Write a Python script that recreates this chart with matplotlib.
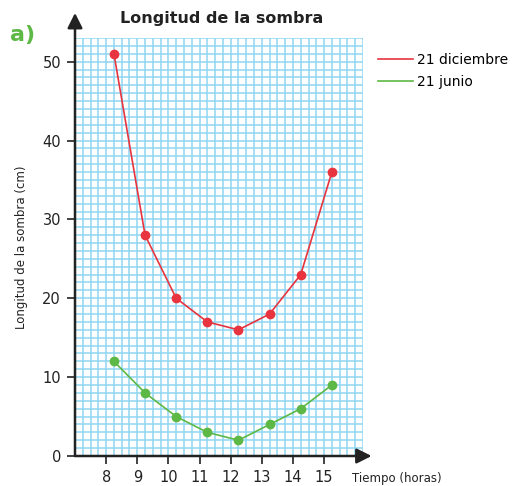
import matplotlib.pyplot as plt
import numpy as np

# data
horas = [8.25, 9.25, 10.25, 11.25, 12.25, 13.25, 14.25, 15.25]
diciembre = [51, 28, 20, 17, 16, 18, 23, 36]
junio = [12, 8, 5, 3, 2, 4, 6, 9]
xticks = [8, 9, 10, 11, 12, 13, 14, 15]
yticks = [0, 10, 20, 30, 40, 50]

rojo = "#e8343f"
verde = "#5db845"
azul = "#8ed6f2"
negro = "#222222"

plt.rcParams["font.family"] = ["DejaVu Sans"]

fig = plt.figure(figsize=(5.15, 4.86), dpi=100)
ax = fig.add_axes([75 / 515, 1 - 456 / 486, 288 / 515, 418 / 486])
ax.set_xlim(7, 16.25)
ax.set_ylim(0, 53)

# squared paper
for gx in np.arange(7.25, 16.26, 0.25):
    ax.axvline(gx, color=azul, lw=1.1, zorder=1)
for gy in range(1, 54):
    ax.axhline(gy, color=azul, lw=1.1, zorder=1)

for s in ax.spines.values():
    s.set_visible(False)

# axes with arrows
ax.annotate("", xy=(1.03, 0), xytext=(0, 0), xycoords="axes fraction",
            arrowprops=dict(arrowstyle="-|>,head_length=0.9,head_width=0.45",
                            color=negro, lw=1.8, shrinkA=0, shrinkB=0),
            annotation_clip=False, zorder=5)
ax.annotate("", xy=(0, 1.06), xytext=(0, 0), xycoords="axes fraction",
            arrowprops=dict(arrowstyle="-|>,head_length=0.9,head_width=0.45",
                            color=negro, lw=1.8, shrinkA=0, shrinkB=0),
            annotation_clip=False, zorder=5)

ax.plot(horas, diciembre, color=rojo, lw=1.2, marker="o", ms=6, zorder=4,
        label="21 diciembre", clip_on=False)
ax.plot(horas, junio, color=verde, lw=1.2, marker="o", ms=6, zorder=4,
        label="21 junio", clip_on=False)

ax.set_xticks(xticks)
ax.set_yticks(yticks)
ax.tick_params(axis="both", direction="out", length=6, width=1.2, color=negro,
               labelsize=10.5, labelcolor=negro, pad=4)

ax.set_ylabel("Longitud de la sombra (cm)", fontsize=8.5, color=negro,
              labelpad=10)
ax.text(0.962, -0.053, "Tiempo (horas)", transform=ax.transAxes, ha="left",
        va="center", fontsize=8.5, color=negro)

fig.text(222 / 515, 1 - 18 / 486, "Longitud de la sombra", ha="center",
         va="center", fontsize=11.5, fontweight="bold", color=negro)
fig.text(10 / 515, 1 - 35 / 486, "a)", ha="left", va="center", fontsize=16,
         fontweight="bold", color=verde)

leg = fig.legend(loc="upper left", bbox_to_anchor=(371 / 515, 1 - 46 / 486),
                 frameon=False, fontsize=10, handlelength=2.55,
                 handletextpad=0.28, labelspacing=0.55, borderpad=0)
for ln in leg.get_lines():
    ln.set_marker("")
    ln.set_linewidth(1.2)

fig.savefig("out.png", dpi=100)
